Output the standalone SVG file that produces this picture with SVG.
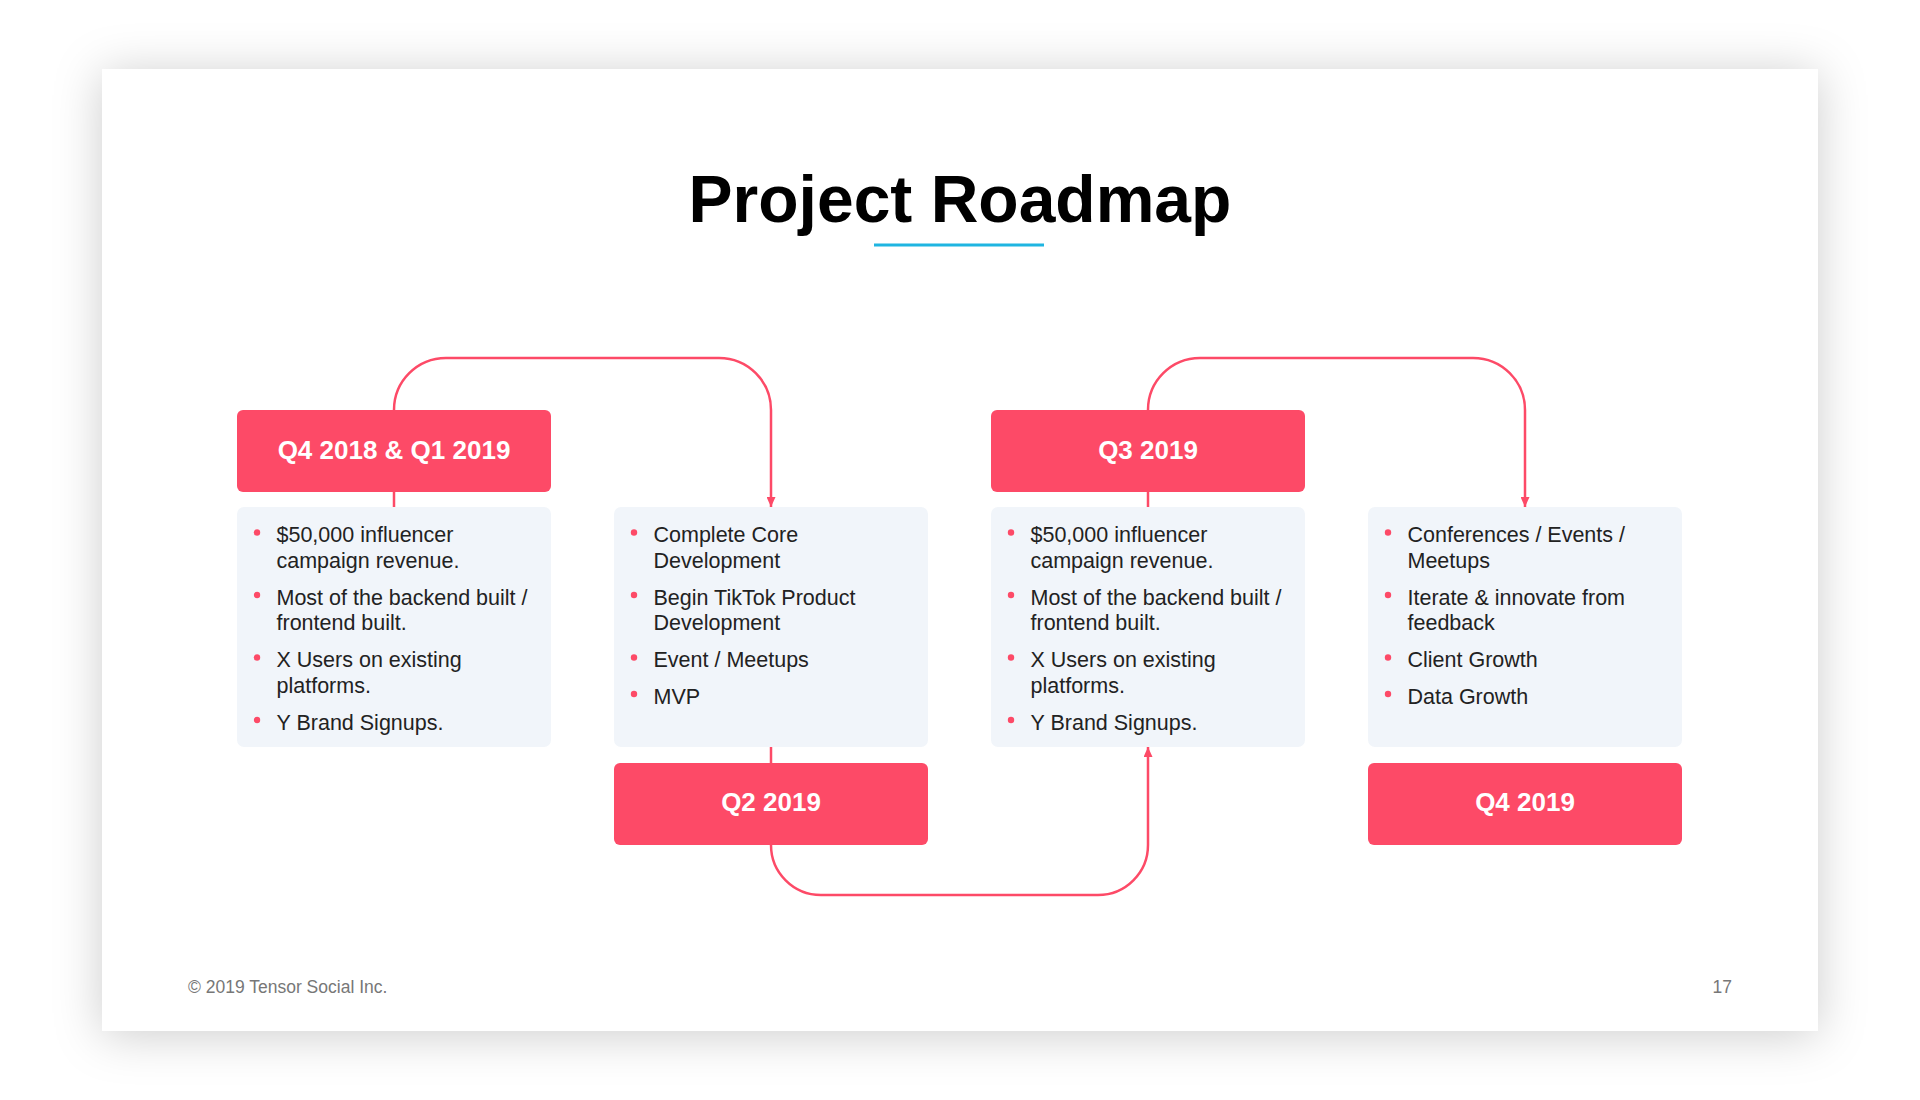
<svg xmlns="http://www.w3.org/2000/svg" width="1920" height="1100" viewBox="0 0 1920 1100">
<defs>
<filter id="shadow" x="-10%" y="-15%" width="120%" height="130%">
<feDropShadow dx="0" dy="4" stdDeviation="24" flood-color="#000" flood-opacity="0.2"/>
</filter>
<marker id="arrow" viewBox="0 0 10 9" refX="10" refY="4.5" markerWidth="10" markerHeight="9" markerUnits="userSpaceOnUse" orient="auto">
<path d="M0,0 L10,4.5 L0,9 z" fill="#fd4a67"/>
</marker>
</defs>
<style>
.head{fill:#fd4a67}
.body{fill:#f1f5fa}
.htxt{font-family:"Liberation Sans",Arial,sans-serif;font-weight:700;font-size:26px;fill:#fff;text-anchor:middle}
.btxt{font-family:"Liberation Sans",Arial,sans-serif;font-size:21.5px;fill:#222}
.dot{fill:#fd4a67}
.conn{fill:none;stroke:#fd4a67;stroke-width:2.5}
.foot{font-family:"Liberation Sans",Arial,sans-serif;font-size:17.5px;fill:#777}
</style>
<rect width="1920" height="1100" fill="#fff"/>
<rect x="102" y="69" width="1716" height="962" fill="#fff" filter="url(#shadow)"/>
<text x="960" y="222" font-family="Liberation Sans,Arial,sans-serif" font-weight="700" font-size="66" fill="#000" text-anchor="middle">Project Roadmap</text>
<rect x="874" y="243.5" width="170" height="3" fill="#1fb5e1"/>

<g id="connectors">
<path class="conn" d="M394,410 A52,52 0 0 1 446,358 H719 A52,52 0 0 1 771,410 V507" marker-end="url(#arrow)"/>
<path class="conn" d="M394,492 V507"/>
<path class="conn" d="M771,747 V763"/>
<path class="conn" d="M771,845 A50,50 0 0 0 821,895 H1098 A50,50 0 0 0 1148,845 V747" marker-end="url(#arrow)"/>
<path class="conn" d="M1148,492 V507"/>
<path class="conn" d="M1148,410 A52,52 0 0 1 1200,358 H1473 A52,52 0 0 1 1525,410 V507" marker-end="url(#arrow)"/>
</g>

<g id="node-q4-2018">
<rect class="head" x="237" y="410" width="314" height="82" rx="6"/>
<text class="htxt" x="394" y="459">Q4 2018 &amp; Q1 2019</text>
<rect class="body" x="237" y="507" width="314" height="240" rx="7"/>
<circle class="dot" cx="257" cy="532.5" r="3.2"/>
<circle class="dot" cx="257" cy="595" r="3.2"/>
<circle class="dot" cx="257" cy="657.5" r="3.2"/>
<circle class="dot" cx="257" cy="720" r="3.2"/>
<text class="btxt"><tspan x="276.5" y="542">$50,000 influencer</tspan><tspan x="276.5" y="567.5">campaign revenue.</tspan><tspan x="276.5" y="604.5">Most of the backend built /</tspan><tspan x="276.5" y="630">frontend built.</tspan><tspan x="276.5" y="667">X Users on existing</tspan><tspan x="276.5" y="692.5">platforms.</tspan><tspan x="276.5" y="729.5">Y Brand Signups.</tspan></text>
</g>

<g id="node-q2-2019">
<rect class="body" x="614" y="507" width="314" height="240" rx="7"/>
<circle class="dot" cx="634" cy="532.5" r="3.2"/>
<circle class="dot" cx="634" cy="595" r="3.2"/>
<circle class="dot" cx="634" cy="657.5" r="3.2"/>
<circle class="dot" cx="634" cy="694" r="3.2"/>
<text class="btxt"><tspan x="653.5" y="542">Complete Core</tspan><tspan x="653.5" y="567.5">Development</tspan><tspan x="653.5" y="604.5">Begin TikTok Product</tspan><tspan x="653.5" y="630">Development</tspan><tspan x="653.5" y="667">Event / Meetups</tspan><tspan x="653.5" y="703.5">MVP</tspan></text>
<rect class="head" x="614" y="763" width="314" height="82" rx="6"/>
<text class="htxt" x="771" y="811">Q2 2019</text>
</g>

<g id="node-q3-2019">
<rect class="head" x="991" y="410" width="314" height="82" rx="6"/>
<text class="htxt" x="1148" y="459">Q3 2019</text>
<rect class="body" x="991" y="507" width="314" height="240" rx="7"/>
<circle class="dot" cx="1011" cy="532.5" r="3.2"/>
<circle class="dot" cx="1011" cy="595" r="3.2"/>
<circle class="dot" cx="1011" cy="657.5" r="3.2"/>
<circle class="dot" cx="1011" cy="720" r="3.2"/>
<text class="btxt"><tspan x="1030.5" y="542">$50,000 influencer</tspan><tspan x="1030.5" y="567.5">campaign revenue.</tspan><tspan x="1030.5" y="604.5">Most of the backend built /</tspan><tspan x="1030.5" y="630">frontend built.</tspan><tspan x="1030.5" y="667">X Users on existing</tspan><tspan x="1030.5" y="692.5">platforms.</tspan><tspan x="1030.5" y="729.5">Y Brand Signups.</tspan></text>
</g>

<g id="node-q4-2019">
<rect class="body" x="1368" y="507" width="314" height="240" rx="7"/>
<circle class="dot" cx="1388" cy="532.5" r="3.2"/>
<circle class="dot" cx="1388" cy="595" r="3.2"/>
<circle class="dot" cx="1388" cy="657.5" r="3.2"/>
<circle class="dot" cx="1388" cy="694" r="3.2"/>
<text class="btxt"><tspan x="1407.5" y="542">Conferences / Events /</tspan><tspan x="1407.5" y="567.5">Meetups</tspan><tspan x="1407.5" y="604.5">Iterate &amp; innovate from</tspan><tspan x="1407.5" y="630">feedback</tspan><tspan x="1407.5" y="667">Client Growth</tspan><tspan x="1407.5" y="703.5">Data Growth</tspan></text>
<rect class="head" x="1368" y="763" width="314" height="82" rx="6"/>
<text class="htxt" x="1525" y="811">Q4 2019</text>
</g>

<text class="foot" x="188" y="993">© 2019 Tensor Social Inc.</text>
<text class="foot" x="1732" y="993" text-anchor="end">17</text>
</svg>
